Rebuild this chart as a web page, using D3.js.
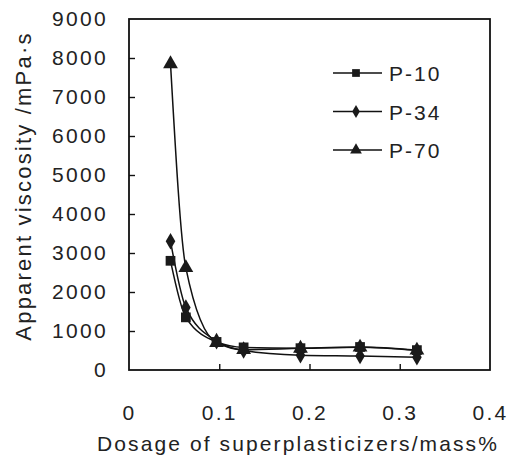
<!DOCTYPE html>
<html>
<head>
<meta charset="utf-8">
<script src="https://cdn.jsdelivr.net/npm/d3@7"></script>
<style>
  body { margin: 0; background: #fff; }
  text { font-family: "Liberation Sans", Arial, sans-serif; fill: #222; }
</style>
</head>
<body>
<div id="chart"></div>
<script>
// dosage (mass%) and apparent viscosity (mPa·s)
const dosage = [0.046, 0.063, 0.097, 0.127, 0.19, 0.256, 0.319];
const p10 = [2800, 1350, 720, 580, 560, 590, 510];
const p34 = [3300, 1600, 740, 500, 380, 360, 330];
const p70 = [7850, 2620, 700, 520, 555, 585, 505];
const seriesNames = ['P-10', 'P-34', 'P-70'];
const xTicks = [0, 0.1, 0.2, 0.3, 0.4];
const yTicks = [0, 1000, 2000, 3000, 4000, 5000, 6000, 7000, 8000, 9000];

const series = [
  { name: seriesNames[0], values: p10, symbol: d3.symbolSquare, size: 95, legSize: 60 },
  { name: seriesNames[1], values: p34, symbol: d3.symbolDiamond, size: 80, legSize: 50 },
  { name: seriesNames[2], values: p70, symbol: d3.symbolTriangle, size: 95, legSize: 60 }
];

const W = 508, H = 464;
const margin = { top: 19, right: 18, bottom: 94, left: 129 };
const width = W - margin.left - margin.right;
const height = H - margin.top - margin.bottom;
const font = '"Liberation Sans", Arial, sans-serif';

const svg = d3.select('#chart').append('svg')
  .attr('width', W).attr('height', H);
const g = svg.append('g').attr('transform', `translate(${margin.left},${margin.top})`);

const x = d3.scaleLinear().domain([0, 0.4]).range([0, width]);
const y = d3.scaleLinear().domain([0, 9000]).range([height, 0]);

// frame
g.append('rect').attr('width', width).attr('height', height)
  .attr('fill', 'none').attr('stroke', '#111').attr('stroke-width', 1.8);

// axes with inward ticks
const xAxis = g.append('g').attr('transform', `translate(0,${height})`)
  .call(d3.axisBottom(x).tickValues(xTicks).tickSize(-6).tickPadding(35)
    .tickFormat(d => d === 0 ? '0' : d3.format('.1f')(d)));
const yAxis = g.append('g')
  .call(d3.axisLeft(y).tickValues(yTicks).tickSize(-6).tickPadding(21)
    .tickFormat(d3.format('d')));
[xAxis, yAxis].forEach(a => {
  a.select('.domain').remove();
  a.selectAll('line').attr('stroke', '#111').attr('stroke-width', 1.4);
  a.selectAll('text').style('font-size', '21px').style('letter-spacing', '2.3px')
    .attr('fill', '#222').style('font-family', font);
});
xAxis.selectAll('.tick').filter(d => d === 0 || d === 0.4).select('line').remove();
yAxis.selectAll('.tick').filter(d => d === 0 || d === 9000).select('line').remove();

// lines
const line = d3.line()
  .x((d, i) => x(dosage[i]))
  .y(d => y(d))
  .curve(d3.curveMonotoneX);

series.forEach(s => {
  g.append('path').datum(s.values)
    .attr('fill', 'none').attr('stroke', '#111').attr('stroke-width', 1.5)
    .attr('d', line);
});
series.slice().reverse().forEach(s => {
  g.selectAll(null).data(s.values).enter().append('path')
    .attr('d', d3.symbol().type(s.symbol).size(s.size))
    .attr('transform', (d, i) => `translate(${x(dosage[i])},${y(d)})`)
    .attr('fill', '#1a1a1a');
});

// legend
const legend = g.append('g').attr('transform', `translate(${333 - margin.left},${73 - margin.top})`);
series.forEach((s, i) => {
  const row = legend.append('g').attr('transform', `translate(0,${i * 38.5})`);
  row.append('line').attr('x1', 0).attr('x2', 49).attr('stroke', '#111').attr('stroke-width', 1.5);
  row.append('path').attr('d', d3.symbol().type(s.symbol).size(s.legSize))
    .attr('transform', 'translate(23,0)').attr('fill', '#1a1a1a');
  row.append('text').attr('x', 56).attr('y', 8).style('font-size', '21px')
    .style('letter-spacing', '2px').text(s.name);
});

// axis titles
svg.append('text')
  .attr('x', 298).attr('y', 451)
  .attr('text-anchor', 'middle').style('font-size', '21px').style('letter-spacing', '2.1px')
  .text('Dosage of superplasticizers/mass%');
svg.append('text')
  .attr('transform', 'translate(31,186) rotate(-90)')
  .attr('text-anchor', 'middle').style('font-size', '22px').style('letter-spacing', '2.2px')
  .text('Apparent viscosity /mPa·s');
</script>
</body>
</html>
